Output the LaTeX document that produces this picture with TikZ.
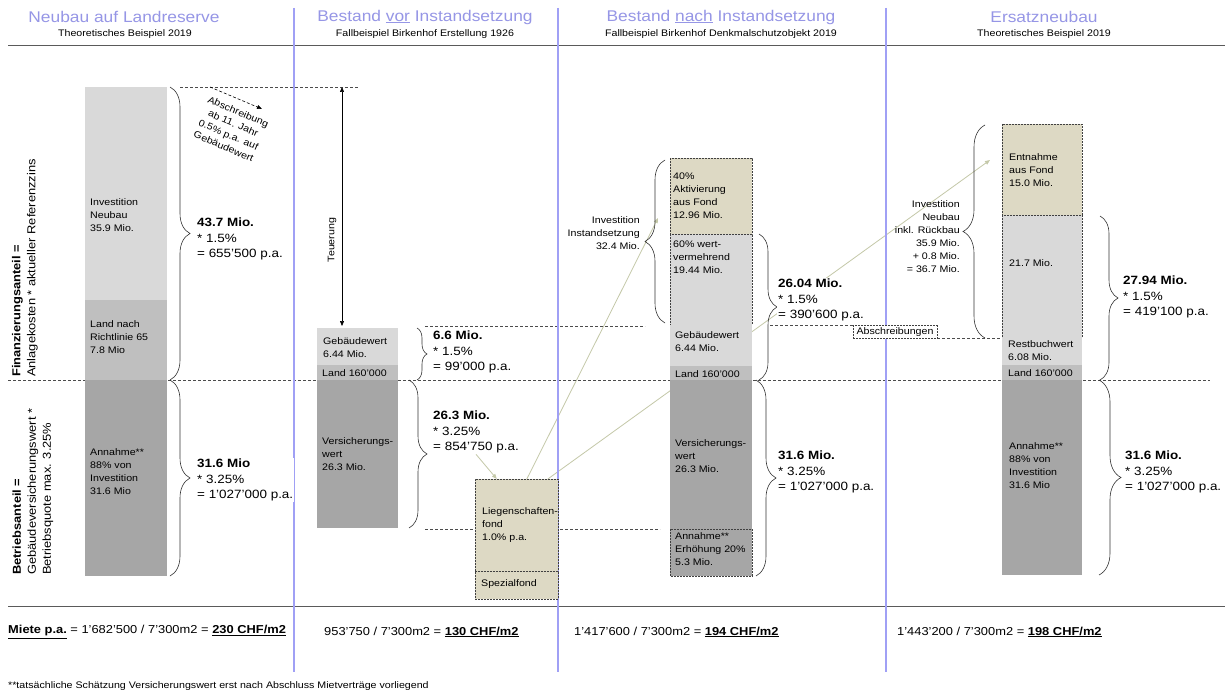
\documentclass[tikz,border=0pt]{standalone}
\usepackage{fontspec}
\setmainfont{Liberation Sans}[FakeStretch=1.12]
\usetikzlibrary{arrows.meta,decorations.pathreplacing,backgrounds}
\definecolor{titleblue}{RGB}{150,150,230}
\definecolor{sepblue}{RGB}{160,160,245}
\definecolor{greyA}{RGB}{217,217,217}
\definecolor{greyB}{RGB}{191,191,191}
\definecolor{greyC}{RGB}{166,166,166}
\definecolor{fondtan}{RGB}{221,217,196}
\definecolor{fondline}{RGB}{196,200,168}
\definecolor{rulegrey}{RGB}{90,90,90}

\begin{document}
\begin{tikzpicture}[x=1pt,y=-1pt,
  segtxt/.style={font=\fontsize{9.5}{13}\selectfont, align=left, anchor=west, inner sep=0},
  calctxt/.style={font=\fontsize{12}{15.5}\selectfont, align=left, anchor=west, inner sep=1pt, fill=white},
  titletxt/.style={font=\fontsize{15.5}{18}\selectfont, text=titleblue},
  subtxt/.style={font=\fontsize{9.5}{11}\selectfont},
  miettxt/.style={font=\fontsize{11.5}{13}\selectfont, anchor=west, inner sep=0},
  guide/.style={densely dashed, draw=black!70, line width=0.5pt},
  boxline/.style={dash pattern=on 2pt off 1pt, draw=black!75, line width=0.6pt},
  brc/.style={decorate, decoration={brace, amplitude=#1}, draw=black!80, line width=0.6pt},
  fondarrow/.style={draw=fondline, line width=0.8pt, -{Triangle[length=5pt,width=4pt]}}]
\useasboundingbox (0,0) rectangle (1230,695);

% headings
\node[titletxt] (t1) at (124,17) {Neubau auf Landreserve};
\node[subtxt] (s1) at (125,34) {Theoretisches Beispiel 2019};
\node[titletxt] (t2) at (425,17) {Bestand \underline{vor} Instandsetzung};
\node[subtxt] (s2) at (425,34) {Fallbeispiel Birkenhof Erstellung 1926};
\node[titletxt] (t3) at (721,17) {Bestand \underline{nach} Instandsetzung};
\node[subtxt] (s3) at (721,34) {Fallbeispiel Birkenhof Denkmalschutzobjekt 2019};
\node[titletxt] (t4) at (1044,17) {Ersatzneubau};
\node[subtxt] (s4) at (1044,34) {Theoretisches Beispiel 2019};
\draw[rulegrey, line width=1pt] (8,46) -- (1225,46);
\draw[rulegrey, line width=1pt] (8,606) -- (1225,606);

% dashed levels
\draw[guide] (180,87) -- (358,87);
\draw[guide] (8,380) -- (1210,380);
\draw[guide] (425,326) -- (645,326);
\draw[guide] (425,529) -- (660,529);
\draw[guide] (770,325) -- (853,325);
\draw[guide] (937,338) -- (1002,338);

% column separators
\foreach \xs in {294,558,886}
  \draw[sepblue, line width=2.5pt] (\xs,8) -- (\xs,672);

% left labels
\node[rotate=90, anchor=west, align=left, inner sep=0, font=\fontsize{11.5}{15}\selectfont] (finlbl) at (25,377)
  {\textbf{Finanzierungsanteil =}\\Anlagekosten * aktueller Referenzzins};
\node[rotate=90, anchor=west, align=left, inner sep=0, font=\fontsize{11.5}{15}\selectfont] (betlbl) at (33,575)
  {\textbf{Betriebsanteil =}\\Gebäudeversicherungswert *\\Betriebsquote max. 3.25\%};

% column 1: Neubau auf Landreserve
\fill[greyA] (85,87) rectangle (167,300);
\fill[greyB] (85,300) rectangle (167,380);
\fill[greyC] (85,380) rectangle (167,576);
\node[segtxt] (c1inv) at (90,215) {Investition\\Neubau\\35.9 Mio.};
\node[segtxt] (c1land) at (90,337) {Land nach\\Richtlinie 65\\7.8 Mio};
\node[segtxt] (c1ann) at (90,472) {Annahme**\\88\% von\\Investition\\31.6 Mio};
\draw[brc=20] (170,87) -- (170,380);
\draw[brc=20] (170,380) -- (170,576);
\node[calctxt] (c1fin) at (196,239) {\textbf{43.7 Mio.}\\* 1.5\%\\= 655'500 p.a.};
\node[calctxt] (c1bet) at (196,480) {\textbf{31.6 Mio}\\* 3.25\%\\= 1'027'000 p.a.};
\coordinate (absA) at (210,87);
\coordinate (absB) at (262,109);
\draw[densely dashed, line width=0.6pt, -{Triangle[length=5pt,width=4pt]}] (absA) -- (absB);
\node[rotate=-23, align=center, font=\fontsize{9.5}{12.5}\selectfont] (abstxt) at (231,129)
  {Abschreibung\\ab 11. Jahr\\0.5\% p.a. auf\\Gebäudewert};

% column 2: Bestand vor Instandsetzung
\coordinate (teuA) at (342,87);
\coordinate (teuB) at (342,326);
\draw[line width=0.6pt, {Triangle[length=5pt,width=4pt]}-{Triangle[length=5pt,width=4pt]}] (teuA) -- (teuB);
\node[rotate=90, font=\fontsize{9.5}{11}\selectfont] (teuer) at (332,240) {Teuerung};
\fill[greyA] (317,328) rectangle (398,365);
\fill[greyB] (317,365) rectangle (398,380);
\fill[greyC] (317,380) rectangle (398,528);
\node[segtxt] (c2geb) at (323,348) {Gebäudewert\\6.44 Mio.};
\node[segtxt] (c2land) at (322,373) {Land 160'000};
\node[segtxt] (c2vers) at (322,454) {Versicherungs-\\wert\\26.3 Mio.};
\draw[brc=10] (417,328) -- (417,380);
\draw[brc=18] (409,380) -- (409,528);
\node[calctxt] (c2fin) at (432,352) {\textbf{6.6 Mio.}\\* 1.5\%\\= 99'000 p.a.};
\node[calctxt] (c2bet) at (432,432) {\textbf{26.3 Mio.}\\* 3.25\%\\= 854'750 p.a.};
\node[boxline, fill=fondtan, minimum width=83pt, minimum height=92pt, inner sep=0, anchor=north west] (fond) at (475,479) {};
\node[boxline, fill=fondtan, minimum width=83pt, minimum height=28pt, inner sep=0, anchor=north west] (spez) at (475,571) {};
\node[segtxt] (c2fond) at (482,525) {Liegenschaften-\\fond\\1.0\% p.a.};
\node[segtxt] (c2spez) at (481,584) {Spezialfond};

% column 3: Bestand nach Instandsetzung
\filldraw[fill=fondtan, boxline] (670,158) rectangle (752,234);
\filldraw[fill=greyA, boxline] (670,234) rectangle (752,325);
\fill[greyA] (670,325) rectangle (752,366);
\fill[greyB] (670,366) rectangle (752,380);
\fill[greyC] (670,380) rectangle (752,529);
\filldraw[fill=greyC, boxline] (670,529) rectangle (752,576);
\node[segtxt] (c3akt) at (673,196) {40\%\\Aktivierung\\aus Fond\\12.96 Mio.};
\node[segtxt] (c3wert) at (673,257) {60\% wert-\\vermehrend\\19.44 Mio.};
\node[segtxt] (c3geb) at (675,342) {Gebäudewert\\6.44 Mio.};
\node[segtxt] (c3land) at (675,374) {Land 160'000};
\node[segtxt] (c3vers) at (675,456) {Versicherungs-\\wert\\26.3 Mio.};
\node[segtxt] (c3ann) at (675,549) {Annahme**\\Erhöhung 20\%\\5.3 Mio.};
\draw[brc=20] (665,323) -- (665,160);
\node[segtxt, anchor=east, align=right] (c3inv) at (640,233) {Investition\\Instandsetzung\\32.4 Mio.};
\draw[brc=18] (759,234) -- (759,380);
\draw[brc=20] (756,380) -- (756,576);
\node[calctxt] (c3fin) at (777,300) {\textbf{26.04 Mio.}\\* 1.5\%\\= 390'600 p.a.};
\node[calctxt] (c3bet) at (777,472) {\textbf{31.6 Mio.}\\* 3.25\%\\= 1'027'000 p.a.};
\node[boxline, fill=white, minimum width=84pt, minimum height=13pt, inner sep=0, font=\fontsize{9.5}{11}\selectfont] (abschr) at (895,332) {Abschreibungen};

% column 4: Ersatzneubau
\filldraw[fill=fondtan, boxline] (1002,124) rectangle (1082,215);
\filldraw[fill=greyA, boxline] (1002,215) rectangle (1082,338);
\fill[greyA] (1002,338) rectangle (1082,365);
\fill[greyB] (1002,365) rectangle (1082,380);
\fill[greyC] (1002,380) rectangle (1082,575);
\node[segtxt] (c4entn) at (1009,170) {Entnahme\\aus Fond\\15.0 Mio.};
\node[segtxt] (c4neu) at (1009,263) {21.7 Mio.};
\node[segtxt] (c4rest) at (1008,351) {Restbuchwert\\6.08 Mio.};
\node[segtxt] (c4land) at (1008,373) {Land 160'000};
\node[segtxt] (c4ann) at (1009,466) {Annahme**\\88\% von\\Investition\\31.6 Mio};
\draw[brc=22] (985,338) -- (985,125);
\node[segtxt, anchor=east, align=right] (c4inv) at (960,237) {Investition\\Neubau\\inkl. Rückbau\\35.9 Mio.\\+ 0.8 Mio.\\= 36.7 Mio.};
\draw[brc=18] (1100,216) -- (1100,380);
\draw[brc=22] (1099,380) -- (1099,575);
\node[calctxt] (c4fin) at (1122,297) {\textbf{27.94 Mio.}\\* 1.5\%\\= 419'100 p.a.};
\node[calctxt] (c4bet) at (1124,472) {\textbf{31.6 Mio.}\\* 3.25\%\\= 1'027'000 p.a.};

% rent per m2
\node[miettxt] (miete1) at (8,632) {\underline{\textbf{Miete p.a.}} = 1'682'500 / 7'300m2 = \underline{\textbf{230 CHF/m2}}};
\node[miettxt] (miete2) at (324,632) {953'750 / 7'300m2 = \underline{\textbf{130 CHF/m2}}};
\node[miettxt] (miete3) at (574,632) {1'417'600 / 7'300m2 = \underline{\textbf{194 CHF/m2}}};
\node[miettxt] (miete4) at (897,632) {1'443'200 / 7'300m2 = \underline{\textbf{198 CHF/m2}}};
\node[anchor=west, inner sep=0, font=\fontsize{9.5}{11}\selectfont] (fussnote) at (8,686)
  {**tatsächliche Schätzung Versicherungswert erst nach Abschluss Mietverträge vorliegend};

% fund flows
\coordinate (aktin) at (658,218);
\coordinate (entin) at (990,160);
\begin{scope}[on background layer]
\fill[white] (0,0) rectangle (1230,695);
\draw[fondarrow] (c2bet.south) -- ([xshift=-20pt]fond.north);
\draw[fondarrow] ([xshift=10pt]fond.north) -- (aktin);
\draw[fondarrow] ([xshift=31pt]fond.north) -- (entin);
\end{scope}
\end{tikzpicture}
\end{document}
